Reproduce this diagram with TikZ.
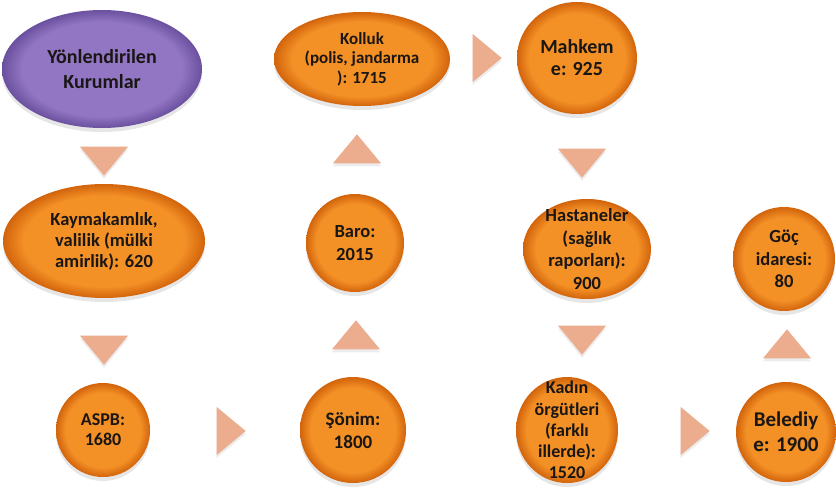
\documentclass[tikz,border=0pt]{standalone}
\usepackage{fontspec}
\setmainfont{Carlito}
\usetikzlibrary{shapes.geometric}
\usetikzlibrary{shadows}

\definecolor{orangeIn}{RGB}{243,144,38}
\definecolor{orangeOut}{RGB}{210,100,12}
\definecolor{purpleIn}{RGB}{146,118,196}
\definecolor{purpleOut}{RGB}{106,80,158}
\definecolor{peach}{RGB}{236,172,142}
\definecolor{inktext}{RGB}{26,22,20}

\pgfdeclareradialshading{orangeball}{\pgfpoint{0bp}{0bp}}{color(0bp)=(orangeIn); color(20bp)=(orangeIn); color(25bp)=(orangeOut); color(50bp)=(orangeOut)}
\pgfdeclareradialshading{purpleball}{\pgfpoint{0bp}{0bp}}{color(0bp)=(purpleIn); color(20bp)=(purpleIn); color(25bp)=(purpleOut); color(50bp)=(purpleOut)}

\tikzset{
  ball/.style={ellipse, inner sep=0pt, shading=orangeball,
    drop shadow={shadow xshift=0pt, shadow yshift=-4pt, opacity=0.2}},
  headball/.style={ball, shading=purpleball},
  tri/.style={isosceles triangle, isosceles triangle stretches, inner sep=0pt,
    minimum width=48pt, minimum height=29pt, fill=peach,
    drop shadow={shadow xshift=0pt, shadow yshift=-3pt, opacity=0.15}},
  txt/.style 2 args={align=center, text=inktext, font=\bfseries\fontsize{#1}{#2}\selectfont}
}

\begin{document}
\begin{tikzpicture}[x=1pt, y=-1pt]
\useasboundingbox (0,0) rectangle (836,495);
% Ellipses
\node[headball, minimum width=200pt, minimum height=118pt] at (102, 69)  (yon)  {};
\node[ball, minimum width=176pt, minimum height=94pt]  at (362, 59)  (kol)  {};
\node[ball, minimum width=120pt, minimum height=112pt] at (577, 58)  (mah)  {};
\node[ball, minimum width=202pt, minimum height=114pt] at (104, 241) (kay)  {};
\node[ball, minimum width=98pt, minimum height=98pt]   at (355, 243) (baro) {};
\node[ball, minimum width=128pt, minimum height=100pt] at (587, 249) (has)  {};
\node[ball, minimum width=102pt, minimum height=104pt] at (784, 259) (goc)  {};
\node[ball, minimum width=94pt, minimum height=94pt]   at (103, 430) (aspb) {};
\node[ball, minimum width=106pt, minimum height=106pt] at (353, 430) (son)  {};
\node[ball, minimum width=102pt, minimum height=106pt] at (567, 430) (kad)  {};
\node[ball, minimum width=100pt, minimum height=100pt] at (786, 432) (bel)  {};
% Texts
\node[txt={20}{25}]     at (yon)  {Yönlendirilen\\Kurumlar};
\node[txt={17}{19.5}]   at (kol)  {Kolluk\\(polis, jandarma\\): 1715};
\node[txt={20}{22}]     at (mah)  {Mahkem\\e: 925};
\node[txt={18.5}{21}]   at (kay)  {Kaymakamlık,\\valilik (mülki\\amirlik): 620};
\node[txt={18.5}{23}]   at (baro) {Baro:\\2015};
\node[txt={18.5}{22.5}] at (has)  {Hastaneler\\(sağlık\\raporları):\\900};
\node[txt={18.5}{22.5}] at (goc)  {Göç\\idaresi:\\80};
\node[txt={18}{20}]     at (aspb) {ASPB:\\1680};
\node[txt={19}{23}]     at (son)  {Şönim:\\1800};
\node[txt={18}{21.2}]   at (kad)  {Kadın\\örgütleri\\(farklı\\illerde):\\1520};
\node[txt={21}{25}]     at (bel)  {Belediy\\e: 1900};
% Triangles
\node[tri, rotate=-90] at (104, 158) (t1)  {};
\node[tri, rotate=-90] at (104, 347) (t2)  {};
\node[tri]             at (228, 431) (t3)  {};
\node[tri, rotate=90]  at (356, 338) (t4)  {};
\node[tri, rotate=90]  at (357, 152) (t5)  {};
\node[tri]             at (484, 58)  (t6)  {};
\node[tri, rotate=-90] at (582, 160) (t7)  {};
\node[tri, rotate=-90] at (582, 337) (t8)  {};
\node[tri]             at (692, 431) (t9)  {};
\node[tri, rotate=90]  at (787, 347) (t10) {};
\end{tikzpicture}
\end{document}
